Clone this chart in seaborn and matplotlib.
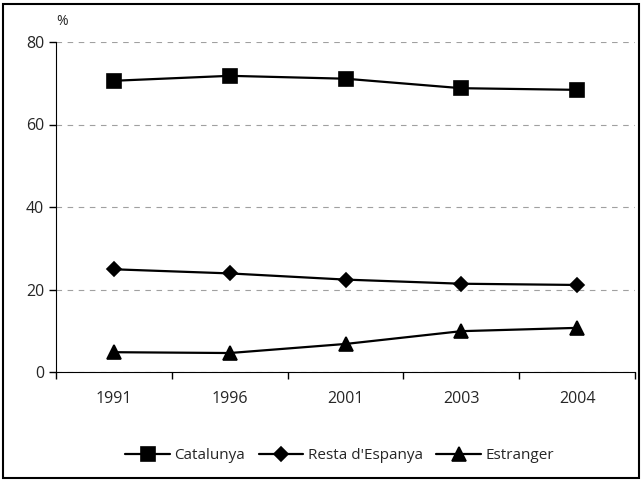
import pandas as pd
import seaborn as sns
import matplotlib.pyplot as plt
import matplotlib.patches as mpatches
from matplotlib.ticker import FixedLocator

# Data
years = ['1991', '1996', '2001', '2003', '2004']
catalunya = [70.6, 71.8, 71.1, 68.8, 68.4]
resta_espanya = [24.9, 23.9, 22.4, 21.4, 21.1]
estranger = [4.8, 4.6, 6.8, 9.9, 10.7]
series_names = ['Catalunya', "Resta d'Espanya", 'Estranger']

df = pd.DataFrame({
    'any': years * 3,
    'valor': catalunya + resta_espanya + estranger,
    'origen': [series_names[0]] * 5 + [series_names[1]] * 5 + [series_names[2]] * 5,
})

sns.set_style('white')
plt.rcParams['font.family'] = ['Open Sans', 'DejaVu Sans']

fig = plt.figure(figsize=(6.42, 4.8), dpi=100)
ax = fig.add_axes([0.0872, 0.225, 0.902, 0.6875])

sns.pointplot(
    data=df, x='any', y='valor', hue='origen', hue_order=series_names,
    palette=['black'] * 3, markers=['s', 'D', '^'], linestyles='-',
    markersize=10, linewidth=1.6, ax=ax, legend=True,
)

# smaller diamonds, like the original
marker_sizes = {'s': 10, 'D': 7.5, '^': 10.5}
for line in ax.lines:
    m = line.get_marker()
    if m in marker_sizes:
        line.set_markersize(marker_sizes[m])

ax.set_xlim(-0.5, 4.5)
ax.set_ylim(0, 80)
ax.set_yticks([0, 20, 40, 60, 80])
ax.set_xlabel('')
ax.set_ylabel('')
for spine in ['top', 'right']:
    ax.spines[spine].set_visible(False)
ax.spines['left'].set_color('black')
ax.spines['bottom'].set_color('black')
ax.yaxis.grid(True, linestyle=(0, (5, 5)), color='#a0a0a0', linewidth=0.8)
ax.set_axisbelow(True)

ax.xaxis.set_minor_locator(FixedLocator([-0.5, 0.5, 1.5, 2.5, 3.5, 4.5]))
ax.tick_params(axis='x', which='major', length=0, pad=14, labelsize=11.5)
ax.tick_params(axis='x', which='minor', length=5, width=1, color='black', direction='out', bottom=True)
ax.tick_params(axis='y', length=5, width=1, color='black', direction='out', left=True, labelsize=11.5)

ax.text(0.0, 1.04, '%', transform=ax.transAxes, fontsize=10, ha='left', va='bottom')

handles, labels = ax.get_legend_handles_labels()
for h in handles:
    m = h.get_marker()
    if m in marker_sizes:
        h.set_markersize(marker_sizes[m])
ax.legend(handles, labels, loc='upper center', bbox_to_anchor=(0.49, -0.19), ncol=3,
          frameon=False, fontsize=11, handlelength=2.9, columnspacing=0.9, handletextpad=0.3)

fig.patches.append(mpatches.Rectangle((0.004, 0.004), 0.992, 0.988, transform=fig.transFigure,
                                      fill=False, edgecolor='black', linewidth=1.5))

fig.savefig('out.png', dpi=100)
